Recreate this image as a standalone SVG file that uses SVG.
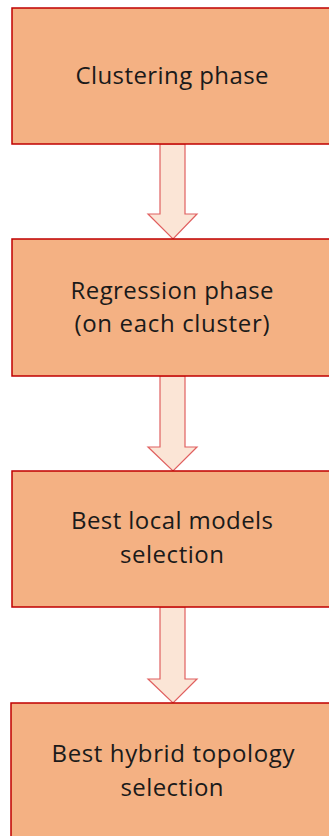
<svg xmlns="http://www.w3.org/2000/svg" width="329" height="836" viewBox="0 0 329 836">
<style>
.box{fill:#F4B183;stroke:#C00000;stroke-width:1.5}
.arr{fill:#FBE5D6;stroke:#E06060;stroke-width:1.2;stroke-linejoin:miter}
text{font-family:"Open Sans","Liberation Sans",sans-serif;font-size:24px;fill:#1a1a1a;text-anchor:middle}
</style>
<rect width="329" height="836" fill="#ffffff"/>
<g id="connectors">
<path class="arr" d="M160,144 H185 V214 H197 L173,239 L148,214 H160 Z"/>
<path class="arr" d="M160,376 H185 V447 H197 L173,471 L148,447 H160 Z"/>
<path class="arr" d="M160,607 H185 V679 H197 L173,703 L148,679 H160 Z"/>
</g>
<g id="n1"><rect class="box" x="12" y="8" width="330" height="136"/><text x="172" y="84" textLength="193" lengthAdjust="spacing">Clustering phase</text></g>
<g id="n2"><rect class="box" x="12" y="239" width="330" height="137"/><text x="172" y="299" textLength="203" lengthAdjust="spacing">Regression phase</text><text x="172" y="332" textLength="195" lengthAdjust="spacing">(on each cluster)</text></g>
<g id="n3"><rect class="box" x="12" y="471" width="330" height="136"/><text x="172" y="529" textLength="202" lengthAdjust="spacing">Best local models</text><text x="172" y="563" textLength="104" lengthAdjust="spacing">selection</text></g>
<g id="n4"><rect class="box" x="11" y="703" width="330" height="150"/><text x="173" y="762" textLength="243" lengthAdjust="spacing">Best hybrid topology</text><text x="172" y="796" textLength="103" lengthAdjust="spacing">selection</text></g>
</svg>
